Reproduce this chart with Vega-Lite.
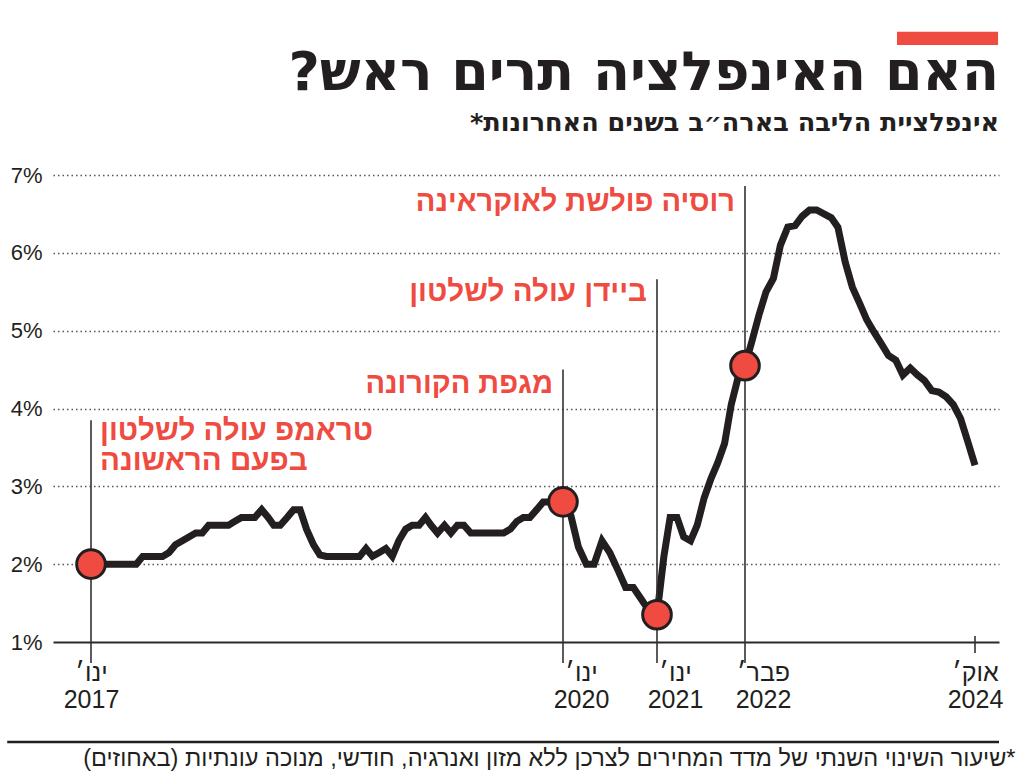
{
  "$schema": "https://vega.github.io/schema/vega-lite/v6.json",
  "width": 946,
  "height": 467,
  "autosize": {"type": "none"},
  "padding": {"left": 53, "top": 175, "right": 25, "bottom": 136},
  "background": "white",
  "config": {"view": {"stroke": null}},
  "datasets": {
    "cpi": [
      {"date": "2017-01-01", "v": 2.0}, {"date": "2017-01-16", "v": 2.0}, {"date": "2017-02-01", "v": 2.0}, {"date": "2017-02-16", "v": 2.0},
      {"date": "2017-03-01", "v": 2.0}, {"date": "2017-03-16", "v": 2.0}, {"date": "2017-04-01", "v": 2.0}, {"date": "2017-04-16", "v": 2.0},
      {"date": "2017-05-01", "v": 2.1}, {"date": "2017-05-16", "v": 2.1}, {"date": "2017-06-01", "v": 2.1}, {"date": "2017-06-16", "v": 2.1},
      {"date": "2017-07-01", "v": 2.15}, {"date": "2017-07-16", "v": 2.25}, {"date": "2017-08-01", "v": 2.3}, {"date": "2017-08-16", "v": 2.35},
      {"date": "2017-09-01", "v": 2.4}, {"date": "2017-09-16", "v": 2.4}, {"date": "2017-10-01", "v": 2.5}, {"date": "2017-10-16", "v": 2.5},
      {"date": "2017-11-01", "v": 2.5}, {"date": "2017-11-16", "v": 2.5}, {"date": "2017-12-01", "v": 2.55}, {"date": "2017-12-16", "v": 2.6},
      {"date": "2018-01-01", "v": 2.6}, {"date": "2018-01-16", "v": 2.6}, {"date": "2018-02-01", "v": 2.7}, {"date": "2018-02-16", "v": 2.6},
      {"date": "2018-03-01", "v": 2.5}, {"date": "2018-03-16", "v": 2.5}, {"date": "2018-04-01", "v": 2.6}, {"date": "2018-04-16", "v": 2.7},
      {"date": "2018-05-01", "v": 2.7}, {"date": "2018-05-16", "v": 2.45}, {"date": "2018-06-01", "v": 2.25}, {"date": "2018-06-16", "v": 2.12},
      {"date": "2018-07-01", "v": 2.1}, {"date": "2018-07-16", "v": 2.1}, {"date": "2018-08-01", "v": 2.1}, {"date": "2018-08-16", "v": 2.1},
      {"date": "2018-09-01", "v": 2.1}, {"date": "2018-09-16", "v": 2.1}, {"date": "2018-10-01", "v": 2.2}, {"date": "2018-10-16", "v": 2.1},
      {"date": "2018-11-01", "v": 2.15}, {"date": "2018-11-16", "v": 2.2}, {"date": "2018-12-01", "v": 2.1}, {"date": "2018-12-16", "v": 2.3},
      {"date": "2019-01-01", "v": 2.45}, {"date": "2019-01-16", "v": 2.5}, {"date": "2019-02-01", "v": 2.5}, {"date": "2019-02-16", "v": 2.6},
      {"date": "2019-03-01", "v": 2.5}, {"date": "2019-03-16", "v": 2.4}, {"date": "2019-04-01", "v": 2.5}, {"date": "2019-04-16", "v": 2.4},
      {"date": "2019-05-01", "v": 2.5}, {"date": "2019-05-16", "v": 2.5}, {"date": "2019-06-01", "v": 2.4}, {"date": "2019-06-16", "v": 2.4},
      {"date": "2019-07-01", "v": 2.4}, {"date": "2019-07-16", "v": 2.4}, {"date": "2019-08-01", "v": 2.4}, {"date": "2019-08-16", "v": 2.4},
      {"date": "2019-09-01", "v": 2.45}, {"date": "2019-09-16", "v": 2.55}, {"date": "2019-10-01", "v": 2.6}, {"date": "2019-10-16", "v": 2.6},
      {"date": "2019-11-01", "v": 2.7}, {"date": "2019-11-16", "v": 2.8}, {"date": "2019-12-01", "v": 2.8}, {"date": "2019-12-16", "v": 2.8},
      {"date": "2020-01-01", "v": 2.8}, {"date": "2020-02-01", "v": 2.62}, {"date": "2020-03-01", "v": 2.22}, {"date": "2020-04-01", "v": 2.0},
      {"date": "2020-05-01", "v": 2.0}, {"date": "2020-06-01", "v": 2.3}, {"date": "2020-07-01", "v": 2.15}, {"date": "2020-08-01", "v": 1.93},
      {"date": "2020-09-01", "v": 1.7}, {"date": "2020-10-01", "v": 1.7}, {"date": "2020-11-01", "v": 1.55}, {"date": "2020-12-01", "v": 1.4},
      {"date": "2021-01-01", "v": 1.35}, {"date": "2021-02-01", "v": 2.1}, {"date": "2021-03-01", "v": 2.6}, {"date": "2021-04-01", "v": 2.6},
      {"date": "2021-05-01", "v": 2.35}, {"date": "2021-06-01", "v": 2.3}, {"date": "2021-07-01", "v": 2.5}, {"date": "2021-08-01", "v": 2.85},
      {"date": "2021-09-01", "v": 3.1}, {"date": "2021-10-01", "v": 3.3}, {"date": "2021-11-01", "v": 3.55}, {"date": "2021-12-01", "v": 4.05},
      {"date": "2022-01-01", "v": 4.4}, {"date": "2022-02-01", "v": 4.55}, {"date": "2022-03-01", "v": 4.85}, {"date": "2022-04-01", "v": 5.2},
      {"date": "2022-05-01", "v": 5.5}, {"date": "2022-06-01", "v": 5.67}, {"date": "2022-07-01", "v": 6.1}, {"date": "2022-08-01", "v": 6.33},
      {"date": "2022-09-01", "v": 6.35}, {"date": "2022-10-01", "v": 6.47}, {"date": "2022-11-01", "v": 6.55}, {"date": "2022-12-01", "v": 6.55},
      {"date": "2023-01-01", "v": 6.5}, {"date": "2023-02-01", "v": 6.45}, {"date": "2023-03-01", "v": 6.33}, {"date": "2023-04-01", "v": 5.88},
      {"date": "2023-05-01", "v": 5.56}, {"date": "2023-06-01", "v": 5.35}, {"date": "2023-07-01", "v": 5.14}, {"date": "2023-08-01", "v": 4.98},
      {"date": "2023-09-01", "v": 4.83}, {"date": "2023-10-01", "v": 4.68}, {"date": "2023-11-01", "v": 4.62}, {"date": "2023-12-01", "v": 4.43},
      {"date": "2024-01-01", "v": 4.52}, {"date": "2024-02-01", "v": 4.43}, {"date": "2024-03-01", "v": 4.36}, {"date": "2024-04-01", "v": 4.23},
      {"date": "2024-05-01", "v": 4.21}, {"date": "2024-06-01", "v": 4.15}, {"date": "2024-07-01", "v": 4.05}, {"date": "2024-08-01", "v": 3.87},
      {"date": "2024-09-01", "v": 3.57}, {"date": "2024-10-01", "v": 3.27}
    ],
    "events": [
      {"d": "2017-01-01", "event": "טראמפ עולה לשלטון\nבפעם הראשונה"},
      {"d": "2020-01-01", "event": "מגפת הקורונה"},
      {"d": "2021-01-01", "event": "ביידן עולה לשלטון"},
      {"d": "2022-02-01", "event": "רוסיה פולשת לאוקראינה"}
    ],
    "heading": [
      {"title": "‏האם האינפלציה תרים ראש?‏", "subtitle": "‏אינפלציית הליבה בארה״ב בשנים האחרונות*‏"}
    ]
  },
  "layer": [
    {
      "data": {"name": "events", "format": {"parse": {"d": "date"}}},
      "transform": [{"filter": "year(datum.d) == 2017"}],
      "mark": {"type": "rule", "color": "#333333", "strokeWidth": 1.6},
      "encoding": {
        "x": {"field": "d", "type": "quantitative"},
        "y": {"datum": 3.85, "type": "quantitative"},
        "y2": {"datum": 0.73}
      }
    },
    {
      "data": {"name": "events", "format": {"parse": {"d": "date"}}},
      "transform": [{"filter": "year(datum.d) == 2020"}],
      "mark": {"type": "rule", "color": "#333333", "strokeWidth": 1.6},
      "encoding": {
        "x": {"field": "d", "type": "quantitative"},
        "y": {"datum": 4.5, "type": "quantitative"},
        "y2": {"datum": 0.73}
      }
    },
    {
      "data": {"name": "cpi", "format": {"parse": {"date": "date"}}},
      "mark": {"type": "line", "color": "#231f20", "strokeWidth": 7, "strokeJoin": "miter"},
      "encoding": {
        "x": {
          "field": "date", "type": "quantitative",
          "scale": {
            "type": "linear", "nice": false, "zero": false,
            "domain": [1475625600000, 1483228800000, 1577836800000, 1609459200000, 1643673600000, 1727740800000, 1736467200000],
            "range": [0, 38, 510, 604, 692, 922, 946]
          },
          "axis": {
            "values": [1483228800000, 1577836800000, 1609459200000, 1643673600000, 1727740800000],
            "labelExpr": "[utcmonth(datum.value) == 0 ? 'ינו׳' : (utcmonth(datum.value) == 1 ? 'פבר׳' : 'אוק׳'), '' + utcyear(datum.value)]",
            "domain": false, "ticks": false, "grid": false,
            "labelAlign": "center",
            "labelOffset": {"condition": {"test": "utcyear(datum.value) == 2017 || utcyear(datum.value) == 2024", "value": 0}, "value": 18},
            "labelBaseline": "top",
            "labelPadding": 18,
            "labelLineHeight": 27,
            "labelFont": "Liberation Sans Narrow, Liberation Sans, sans-serif",
            "labelFontSize": 25,
            "labelColor": "#231f20",
            "labelOverlap": false,
            "labelFlush": false,
            "title": "‏*שיעור השינוי השנתי של מדד המחירים לצרכן ללא מזון ואנרגיה, חודשי, מנוכה עונתיות (באחוזים)‏",
            "titleX": 962, "titleY": 116,
            "titleAlign": "right", "titleAnchor": null, "titleBaseline": "middle", "titleAngle": 0,
            "titleFont": "Liberation Sans Narrow, Liberation Sans, sans-serif",
            "titleFontSize": 23.5, "titleFontWeight": "normal", "titleColor": "#231f20"
          }
        },
        "y": {
          "field": "v", "type": "quantitative",
          "scale": {"domain": [1, 7], "nice": false, "zero": false},
          "axis": {
            "values": [1, 2, 3, 4, 5, 6, 7],
            "labelExpr": "datum.value + '%'",
            "domain": false, "ticks": false, "grid": true,
            "gridDash": {"condition": {"test": "datum.value == 1", "value": []}, "value": [1.5, 3]},
            "gridColor": {"condition": {"test": "datum.value == 1", "value": "#2a2a2a"}, "value": "#555555"},
            "gridWidth": {"condition": {"test": "datum.value == 1", "value": 2}, "value": 1.3},
            "labelPadding": 11,
            "labelFont": "Liberation Sans Narrow, Liberation Sans, sans-serif",
            "labelFontSize": 22,
            "labelColor": "#231f20",
            "title": null
          }
        }
      }
    },
    {
      "data": {"name": "events", "format": {"parse": {"d": "date"}}},
      "transform": [{"filter": "year(datum.d) == 2021"}],
      "mark": {"type": "rule", "color": "#333333", "strokeWidth": 1.6},
      "encoding": {
        "x": {"field": "d", "type": "quantitative"},
        "y": {"datum": 5.66, "type": "quantitative"},
        "y2": {"datum": 0.73}
      }
    },
    {
      "data": {"name": "events", "format": {"parse": {"d": "date"}}},
      "transform": [{"filter": "year(datum.d) == 2022"}],
      "mark": {"type": "rule", "color": "#333333", "strokeWidth": 1.6},
      "encoding": {
        "x": {"field": "d", "type": "quantitative"},
        "y": {"datum": 6.86, "type": "quantitative"},
        "y2": {"datum": 0.73}
      }
    },
    {
      "data": {"name": "cpi", "format": {"parse": {"date": "date"}}},
      "transform": [{"filter": "time(datum.date) == 1727740800000"}],
      "mark": {"type": "rule", "color": "#333333", "strokeWidth": 1.6},
      "encoding": {
        "x": {"field": "date", "type": "quantitative"},
        "y": {"datum": 1.077, "type": "quantitative"},
        "y2": {"datum": 0.86}
      }
    },
    {
      "data": {"name": "cpi", "format": {"parse": {"date": "date"}}},
      "transform": [{"filter": "indexof([1483228800000, 1577836800000, 1609459200000, 1643673600000], time(datum.date)) >= 0"}],
      "mark": {"type": "point", "shape": "circle", "filled": true, "size": 820, "color": "#ef4b41", "stroke": "#231f20", "strokeWidth": 3, "opacity": 1},
      "encoding": {
        "x": {"field": "date", "type": "quantitative"},
        "y": {"field": "v", "type": "quantitative"}
      }
    },
    {
      "data": {"name": "events", "format": {"parse": {"d": "date"}}},
      "transform": [{"filter": "year(datum.d) == 2022"}],
      "mark": {"type": "text", "align": "right", "baseline": "alphabetic", "dx": -10, "font": "Liberation Sans, sans-serif", "fontWeight": "bold", "fontSize": 29, "color": "#ef4b41"},
      "encoding": {"x": {"field": "d", "type": "quantitative"}, "y": {"datum": 6.54, "type": "quantitative"}, "text": {"field": "event"}}
    },
    {
      "data": {"name": "events", "format": {"parse": {"d": "date"}}},
      "transform": [{"filter": "year(datum.d) == 2021"}],
      "mark": {"type": "text", "align": "right", "baseline": "alphabetic", "dx": -10, "font": "Liberation Sans, sans-serif", "fontWeight": "bold", "fontSize": 29.5, "color": "#ef4b41"},
      "encoding": {"x": {"field": "d", "type": "quantitative"}, "y": {"datum": 5.38, "type": "quantitative"}, "text": {"field": "event"}}
    },
    {
      "data": {"name": "events", "format": {"parse": {"d": "date"}}},
      "transform": [{"filter": "year(datum.d) == 2020"}],
      "mark": {"type": "text", "align": "right", "baseline": "alphabetic", "dx": -10, "font": "Liberation Sans, sans-serif", "fontWeight": "bold", "fontSize": 29, "color": "#ef4b41"},
      "encoding": {"x": {"field": "d", "type": "quantitative"}, "y": {"datum": 4.2, "type": "quantitative"}, "text": {"field": "event"}}
    },
    {
      "data": {"name": "events", "format": {"parse": {"d": "date"}}},
      "transform": [{"filter": "year(datum.d) == 2017"}],
      "mark": {"type": "text", "align": "left", "baseline": "alphabetic", "dx": 9, "lineBreak": "\n", "lineHeight": 30, "font": "Liberation Sans, sans-serif", "fontWeight": "bold", "fontSize": 29.5, "color": "#ef4b41"},
      "encoding": {"x": {"field": "d", "type": "quantitative"}, "y": {"datum": 3.6, "type": "quantitative"}, "text": {"field": "event"}}
    },
    {
      "data": {"name": "heading"},
      "mark": {"type": "text", "align": "right", "baseline": "alphabetic", "font": "DejaVu Sans, sans-serif", "fontWeight": "bold", "fontSize": 54, "color": "#231f20"},
      "encoding": {"x": {"datum": 1736467200000, "type": "quantitative"}, "y": {"datum": 8.09, "type": "quantitative"}, "text": {"field": "title"}}
    },
    {
      "data": {"name": "heading"},
      "mark": {"type": "text", "align": "right", "baseline": "alphabetic", "font": "DejaVu Sans, sans-serif", "fontWeight": "bold", "fontSize": 25.5, "color": "#231f20"},
      "encoding": {"x": {"datum": 1736467200000, "type": "quantitative"}, "y": {"datum": 7.57, "type": "quantitative"}, "text": {"field": "subtitle"}}
    },
    {
      "data": {"name": "heading"},
      "mark": {"type": "rect", "color": "#ef4b41"},
      "encoding": {
        "x": {"datum": 1699228800000, "type": "quantitative"},
        "x2": {"datum": 1736121600000},
        "y": {"datum": 8.84, "type": "quantitative"},
        "y2": {"datum": 8.67}
      }
    },
    {
      "data": {"name": "heading"},
      "mark": {"type": "rule", "color": "#231f20", "strokeWidth": 2.5},
      "encoding": {
        "x": {"datum": 1466467200000, "type": "quantitative"},
        "x2": {"datum": 1736467200000},
        "y": {"datum": -0.285, "type": "quantitative"}
      }
    }
  ]
}
